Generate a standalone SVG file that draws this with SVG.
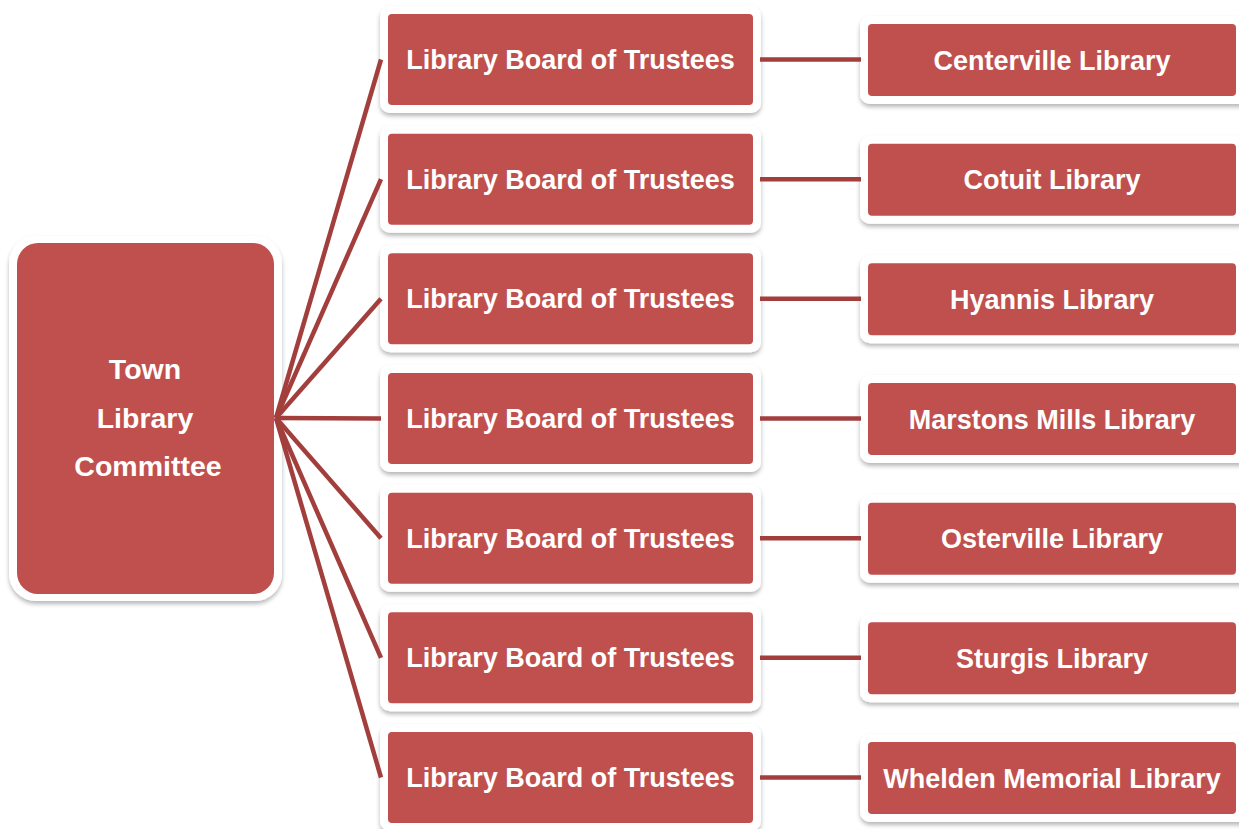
<svg xmlns="http://www.w3.org/2000/svg" width="1239" height="829" viewBox="0 0 1239 829">
<defs>
<filter id="sh" x="-10%" y="-10%" width="120%" height="130%">
<feDropShadow dx="0" dy="3" stdDeviation="2" flood-color="#000" flood-opacity="0.28"/>
</filter>
</defs>
<style>
.frame{fill:#fff;filter:url(#sh)}
.box{fill:#C0504D}
.t{font-family:"Liberation Sans",Arial,sans-serif;font-weight:bold;font-size:27px;fill:#fff;text-anchor:middle}
.big{font-size:28.5px}
.c{stroke:#A23F3D;stroke-width:4.5;fill:none}
</style>
<rect width="1239" height="829" fill="#fff"/>
<g id="root">
<rect class="frame" x="9" y="236" width="273" height="365" rx="27"/>
<rect class="box" x="17" y="243" width="257" height="351" rx="21"/>
<text class="t big" x="145" y="379">Town</text>
<text class="t big" x="145" y="428">Library</text>
<text class="t big" x="148" y="476">Committee</text>
</g>
<g id="boards">
<g id="b1"><rect class="frame" x="380" y="6" width="381" height="107" rx="10"/><rect class="box" x="388" y="14" width="365" height="91" rx="4"/><text class="t" x="570.5" y="69">Library Board of Trustees</text></g>
<g id="b2"><rect class="frame" x="380" y="125.7" width="381" height="107" rx="10"/><rect class="box" x="388" y="133.7" width="365" height="91" rx="4"/><text class="t" x="570.5" y="188.7">Library Board of Trustees</text></g>
<g id="b3"><rect class="frame" x="380" y="245.3" width="381" height="107" rx="10"/><rect class="box" x="388" y="253.3" width="365" height="91" rx="4"/><text class="t" x="570.5" y="308.3">Library Board of Trustees</text></g>
<g id="b4"><rect class="frame" x="380" y="365" width="381" height="107" rx="10"/><rect class="box" x="388" y="373" width="365" height="91" rx="4"/><text class="t" x="570.5" y="428">Library Board of Trustees</text></g>
<g id="b5"><rect class="frame" x="380" y="484.7" width="381" height="107" rx="10"/><rect class="box" x="388" y="492.7" width="365" height="91" rx="4"/><text class="t" x="570.5" y="547.7">Library Board of Trustees</text></g>
<g id="b6"><rect class="frame" x="380" y="604.3" width="381" height="107" rx="10"/><rect class="box" x="388" y="612.3" width="365" height="91" rx="4"/><text class="t" x="570.5" y="667.3">Library Board of Trustees</text></g>
<g id="b7"><rect class="frame" x="380" y="724" width="381" height="107" rx="10"/><rect class="box" x="388" y="732" width="365" height="91" rx="4"/><text class="t" x="570.5" y="787">Library Board of Trustees</text></g>
</g>
<g id="libraries">
<g id="l1"><rect class="frame" x="860" y="16" width="392" height="88" rx="10"/><rect class="box" x="868" y="24" width="368" height="72" rx="4"/><text class="t" x="1052" y="69.5">Centerville Library</text></g>
<g id="l2"><rect class="frame" x="860" y="135.7" width="392" height="88" rx="10"/><rect class="box" x="868" y="143.7" width="368" height="72" rx="4"/><text class="t" x="1052" y="189.2">Cotuit Library</text></g>
<g id="l3"><rect class="frame" x="860" y="255.3" width="392" height="88" rx="10"/><rect class="box" x="868" y="263.3" width="368" height="72" rx="4"/><text class="t" x="1052" y="308.8">Hyannis Library</text></g>
<g id="l4"><rect class="frame" x="860" y="375" width="392" height="88" rx="10"/><rect class="box" x="868" y="383" width="368" height="72" rx="4"/><text class="t" x="1052" y="428.5">Marstons Mills Library</text></g>
<g id="l5"><rect class="frame" x="860" y="494.7" width="392" height="88" rx="10"/><rect class="box" x="868" y="502.7" width="368" height="72" rx="4"/><text class="t" x="1052" y="548.2">Osterville Library</text></g>
<g id="l6"><rect class="frame" x="860" y="614.3" width="392" height="88" rx="10"/><rect class="box" x="868" y="622.3" width="368" height="72" rx="4"/><text class="t" x="1052" y="667.8">Sturgis Library</text></g>
<g id="l7"><rect class="frame" x="860" y="734" width="392" height="88" rx="10"/><rect class="box" x="868" y="742" width="368" height="72" rx="4"/><text class="t" x="1052" y="787.5">Whelden Memorial Library</text></g>
</g>
<g id="connectors">
<line class="c" x1="276" y1="418" x2="381" y2="59.5"/>
<line class="c" x1="276" y1="418" x2="381" y2="179.2"/>
<line class="c" x1="276" y1="418" x2="381" y2="298.8"/>
<line class="c" x1="276" y1="418" x2="381" y2="418.5"/>
<line class="c" x1="276" y1="418" x2="381" y2="538.2"/>
<line class="c" x1="276" y1="418" x2="381" y2="657.8"/>
<line class="c" x1="276" y1="418" x2="381" y2="777.5"/>
<line class="c" x1="760" y1="59.5" x2="861" y2="59.5"/>
<line class="c" x1="760" y1="179.2" x2="861" y2="179.2"/>
<line class="c" x1="760" y1="298.8" x2="861" y2="298.8"/>
<line class="c" x1="760" y1="418.5" x2="861" y2="418.5"/>
<line class="c" x1="760" y1="538.2" x2="861" y2="538.2"/>
<line class="c" x1="760" y1="657.8" x2="861" y2="657.8"/>
<line class="c" x1="760" y1="777.5" x2="861" y2="777.5"/>
</g>
</svg>
